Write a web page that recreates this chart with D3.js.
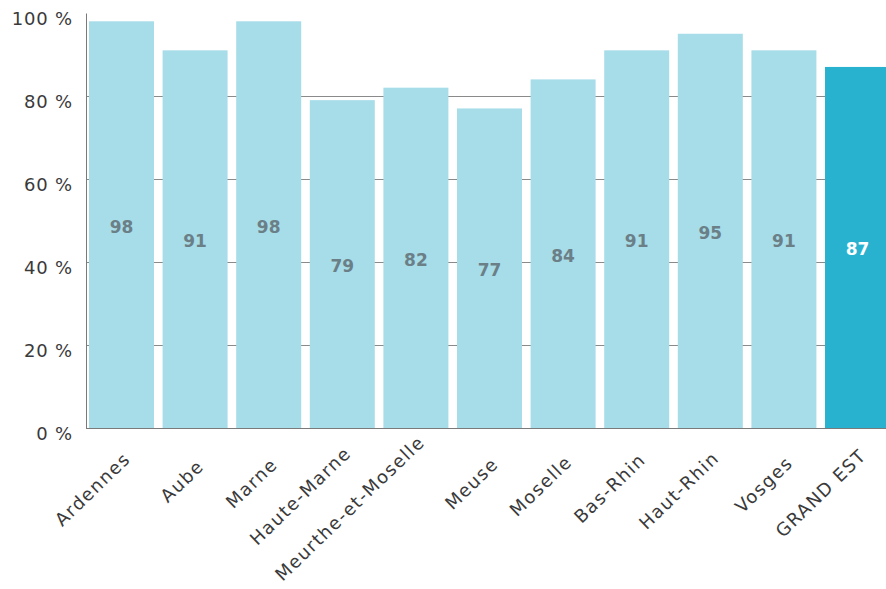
<!DOCTYPE html>
<html>
<head>
<meta charset="utf-8">
<script src="https://cdn.jsdelivr.net/npm/d3@7"></script>
<style>
  html, body { margin: 0; padding: 0; background: #fff; }
  svg { display: block; }
  text { font-family: "DejaVu Sans", sans-serif; }
</style>
</head>
<body>
<svg id="chart" width="886" height="589"></svg>
<script>
// Share per département (%)
const categories = ["Ardennes", "Aube", "Marne", "Haute-Marne", "Meurthe-et-Moselle",
  "Meuse", "Moselle", "Bas-Rhin", "Haut-Rhin", "Vosges", "GRAND EST"];
const values = [98, 91, 98, 79, 82, 77, 84, 91, 95, 91, 87];
const yTicks = [0, 20, 40, 60, 80, 100];
const gridValues = [20, 40, 60, 80];
const highlight = "GRAND EST";

const svg = d3.select("#chart");

const x = d3.scaleBand()
  .domain(categories)
  .range([89, 890])
  .paddingInner(0.117)
  .paddingOuter(0);

const y = d3.scaleLinear().domain([0, 100]).range([428, 13]);

const axisX = 86;

// gridlines behind bars
svg.append("g")
  .selectAll("line")
  .data(gridValues)
  .join("line")
  .attr("x1", axisX)
  .attr("x2", 886)
  .attr("y1", d => y(d) + 0.5)
  .attr("y2", d => y(d) + 0.5)
  .attr("stroke", "#8a8a8a")
  .attr("stroke-width", 1);

// bars
svg.append("g")
  .selectAll("rect")
  .data(categories)
  .join("rect")
  .attr("x", d => x(d))
  .attr("y", (d, i) => y(values[i]))
  .attr("width", x.bandwidth())
  .attr("height", (d, i) => y(0) - y(values[i]))
  .attr("fill", d => d === highlight ? "#29b2cf" : "#a7dce9");

// value labels at bar mid-height
svg.append("g")
  .selectAll("text")
  .data(categories)
  .join("text")
  .attr("x", d => x(d) + x.bandwidth() / 2)
  .attr("y", (d, i) => y(values[i] / 2) + 3)
  .attr("text-anchor", "middle")
  .attr("dominant-baseline", "middle")
  .attr("font-size", 17)
  .attr("font-weight", "bold")
  .attr("fill", d => d === highlight ? "#ffffff" : "#6b7f87")
  .text((d, i) => values[i]);

// y axis
const yAxis = d3.axisLeft(y)
  .tickValues(yTicks)
  .tickSize(0)
  .tickPadding(13)
  .tickFormat(d => d + " %");
const gy = svg.append("g")
  .attr("transform", `translate(${axisX},0)`)
  .call(yAxis);
gy.select(".domain").attr("stroke", "#7a7a7a");
gy.selectAll("text")
  .attr("font-size", 18)
  .attr("fill", "#3a3a3a")
  .attr("dy", "0.32em")
  .attr("transform", "translate(0,6)")
  .style("font-family", "DejaVu Sans, sans-serif")
  .style("letter-spacing", "0.8px");

// x axis: rotated labels, longer labels sit a little higher
const xAxis = d3.axisBottom(x).tickSize(0).tickPadding(0);
const gx = svg.append("g")
  .attr("transform", `translate(0,${y(0)})`)
  .call(xAxis);
gx.select(".domain").attr("d", `M${axisX},0.5H886`).attr("stroke", "#7a7a7a");
gx.selectAll("text")
  .attr("font-size", 18)
  .attr("fill", "#3a3a3a")
  .attr("text-anchor", "end")
  .attr("y", 0)
  .attr("dy", 0)
  .style("font-family", "DejaVu Sans, sans-serif")
  .style("letter-spacing", "1.4px")
  .attr("transform", function () {
    const len = this.getComputedTextLength();
    return `translate(10,${48 - 0.163 * len}) rotate(-44)`;
  });
</script>
</body>
</html>
